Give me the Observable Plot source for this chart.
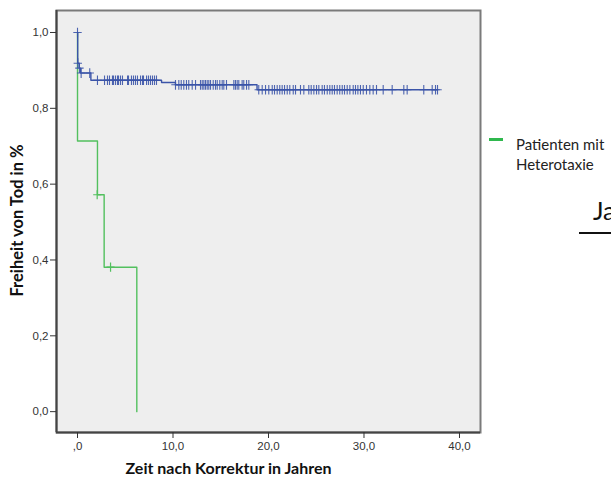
<!DOCTYPE html>
<html>
<head>
<meta charset="utf-8">
<script src="https://cdn.jsdelivr.net/npm/d3@7"></script>
<script src="https://cdn.jsdelivr.net/npm/@observablehq/plot@0.6"></script>
<style>
  body { margin: 0; background: #fff; }
  #wrap { position: relative; width: 611px; height: 477px; overflow: hidden; }
  .leg { position: absolute; font-family: Lato, "Open Sans", sans-serif; color: #222; white-space: nowrap; }
</style>
</head>
<body>
<div id="wrap"></div>
<script>
// ---- data ----
const xLabel = "Zeit nach Korrektur in Jahren";
const yLabel = "Freiheit von Tod in %";
const xTicks = [0, 10, 20, 30, 40];
const xTickLabels = [",0", "10,0", "20,0", "30,0", "40,0"];
const yTicks = [0, 0.2, 0.4, 0.6, 0.8, 1.0];
const yTickLabels = ["0,0", "0,2", "0,4", "0,6", "0,8", "1,0"];

// Group without heterotaxy (blue): step curve
const blueTime = [0, 0.02, 0.18, 0.32, 1.4, 8.8, 10.26, 18.8, 37.7];
const blueSurv = [1.0, 0.919, 0.906, 0.893, 0.874, 0.868, 0.862, 0.849, 0.849];
// Blue censored observations
const blueCensTime = [0, 0.03, 0.2, 0.38, 1.28,
  2.09, 2.83, 3.14, 3.35, 3.66, 3.77, 3.98, 4.19, 4.29, 4.50, 4.71, 5.24, 5.34, 5.65, 5.86, 6.07, 6.28, 6.60, 6.81, 6.91, 7.23, 7.43, 7.64, 7.85, 8.06, 8.27,
  10.26, 10.61, 10.86, 11.13, 11.41, 11.65, 12.01, 12.36, 12.88, 13.06, 13.23, 13.40, 13.58, 13.75, 13.93, 14.21, 14.45, 14.63, 14.90, 15.15, 15.32, 15.60, 16.37, 16.54, 16.72, 16.89, 17.24, 17.41, 17.70, 17.94,
  18.98, 19.34, 19.69, 20.03, 20.39, 20.63, 20.91, 21.18, 21.43, 21.68, 21.96, 22.23, 22.59, 22.83, 23.35, 23.70, 24.22, 24.47, 24.75, 25.03, 25.27, 25.62, 25.86, 26.15, 26.42, 26.67, 26.91, 27.19, 27.46, 27.72, 27.96, 28.24, 28.52, 28.87, 29.11, 29.36, 29.63, 29.92, 30.26, 30.61, 30.96, 31.31, 32.01, 32.95, 34.17, 34.52, 36.26, 37.14, 37.49, 37.70];
const blueCensSurv = [1.0, 0.919, 0.906, 0.893, 0.893,
  ...Array(26).fill(0.874),
  ...Array(30).fill(0.862),
  ...Array(50).fill(0.849)];

// Patients with heterotaxy (green)
const greenTime = [0, 0, 2.09, 2.79, 6.21];
const greenSurv = [1.0, 0.714, 0.572, 0.381, 0.0];
const greenCensTime = [2.06, 3.46];
const greenCensSurv = [0.572, 0.381];

const legendLabel = ["Patienten mit", "Heterotaxie"];
const sideText = "Ja";

// ---- build tables ----
const blueCurve = blueTime.map((t, i) => ({t, s: blueSurv[i]}));
const greenCurve = greenTime.map((t, i) => ({t, s: greenSurv[i]}));
const blueCens = blueCensTime.map((t, i) => ({t, s: blueCensSurv[i]}));
const greenCens = greenCensTime.map((t, i) => ({t, s: greenCensSurv[i]}));

const blue = "#3b54a8";
const green = "#52c05e";

// stroke-only plus symbol
const plusSym = {
  draw(ctx, size) {
    const r = Math.sqrt(size / Math.PI);
    ctx.moveTo(-r, 0); ctx.lineTo(r, 0);
    ctx.moveTo(0, -r * 1.15); ctx.lineTo(0, r * 1.15);
  }
};

const xDom = [-2.2, 42.2];
const yDom = [-0.055, 1.058];

const chart = Plot.plot({
  width: 611,
  height: 477,
  marginLeft: 56,
  marginRight: 131,
  marginTop: 10,
  marginBottom: 45,
  style: {background: "#fff", fontFamily: "'Liberation Sans', Arial, sans-serif", fontSize: "11.5px", color: "#333"},
  x: {domain: xDom, label: null},
  y: {domain: yDom, label: null},
  marks: [
    Plot.frame({fill: "#eeeeee", stroke: "none"}),
    Plot.line(greenCurve, {x: "t", y: "s", curve: "step-after", stroke: green, strokeWidth: 1.4}),
    Plot.dot(greenCens, {x: "t", y: "s", symbol: plusSym, r: 4, stroke: green, strokeWidth: 1.2}),
    Plot.line(blueCurve, {x: "t", y: "s", curve: "step-after", stroke: blue, strokeWidth: 1.4}),
    Plot.dot(blueCens, {x: "t", y: "s", symbol: plusSym, r: 4.2, stroke: blue, strokeWidth: 1.1, strokeOpacity: 0.9}),
    Plot.frame({stroke: "#7a7a7a", strokeWidth: 2}),
    Plot.ruleX([xDom[0]], {stroke: "#444", strokeWidth: 2}),
    Plot.ruleY([yDom[0]], {stroke: "#444", strokeWidth: 2}),
    Plot.axisX({ticks: xTicks, tickFormat: (d, i) => xTickLabels[i], tickSize: 6, tickPadding: 3, stroke: "#333", fill: "#333", label: null}),
    Plot.axisY({ticks: yTicks, tickFormat: (d, i) => yTickLabels[i], tickSize: 6, tickPadding: 2, stroke: "#333", fill: "#333", label: null}),
    Plot.text([xLabel], {frameAnchor: "bottom", textAnchor: "middle", lineAnchor: "middle", dx: -40, dy: 36, fontWeight: "bold", fontSize: 16, fill: "#111", fontFamily: "Lato, 'Open Sans', sans-serif"}),
    Plot.text([yLabel], {frameAnchor: "left", textAnchor: "middle", lineAnchor: "middle", rotate: -90, dx: -39, dy: -1, fontWeight: "bold", fontSize: 16.5, fill: "#111", fontFamily: "Lato, 'Open Sans', sans-serif"})
  ]
});

const wrap = document.getElementById("wrap");
wrap.appendChild(chart);

// legend (HTML)
const dash = document.createElement("div");
dash.style.cssText = "position:absolute;left:489px;top:138px;width:14px;height:3px;background:#2fb84e;";
wrap.appendChild(dash);
const leg = document.createElement("div");
leg.className = "leg";
leg.style.cssText += "left:516px;top:134px;font-size:15px;line-height:20px;";
leg.innerHTML = legendLabel.join("<br>");
wrap.appendChild(leg);

const ja = document.createElement("div");
ja.className = "leg";
ja.style.cssText += "left:593px;top:195px;font-size:25px;line-height:30px;color:#111;";
ja.textContent = sideText;
wrap.appendChild(ja);
const ul = document.createElement("div");
ul.style.cssText = "position:absolute;left:579px;top:232px;width:40px;height:2px;background:#111;";
wrap.appendChild(ul);
</script>
</body>
</html>
